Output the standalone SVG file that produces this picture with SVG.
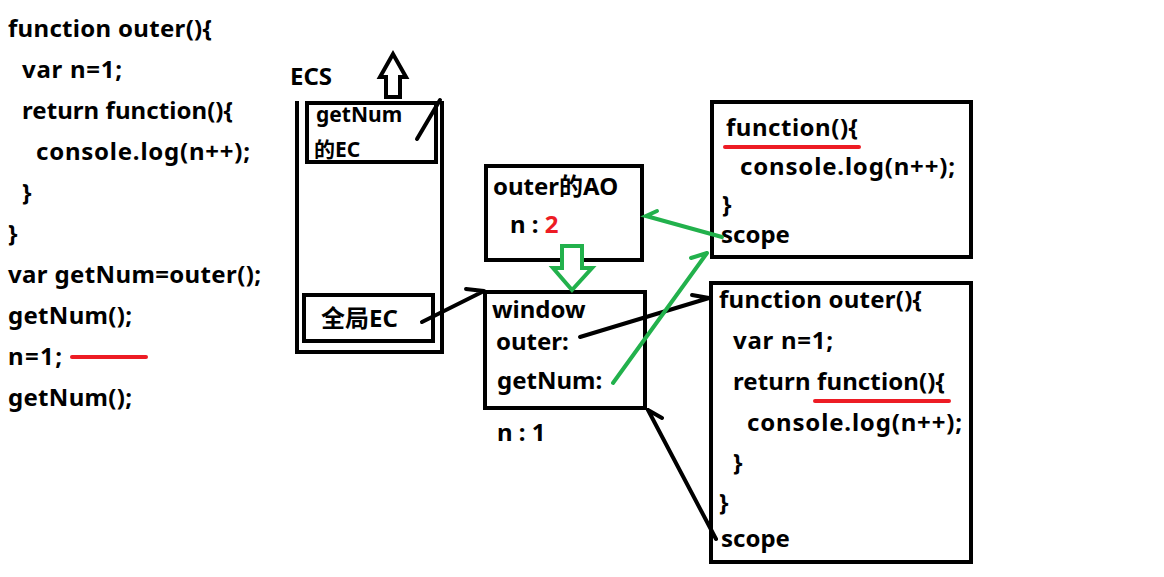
<svg xmlns="http://www.w3.org/2000/svg" width="1164" height="577" viewBox="0 0 1164 577">
<style>
.t{font-family:"Noto Sans","Noto Sans CJK SC",sans-serif;font-weight:bold;font-size:24px;fill:#000}
.s{font-size:21px}
.box{fill:none;stroke:#000;stroke-width:4}
.ln{fill:none;stroke:#000;stroke-width:4;stroke-linecap:round}
.gr{fill:none;stroke:#22b14c;stroke-width:4;stroke-linecap:round}
.red{stroke:#ed1c24;stroke-width:4;stroke-linecap:round}
</style>
<rect width="1164" height="577" fill="#fff"/>
<g id="code">
<text class="t" x="8" y="37" textLength="204" lengthAdjust="spacing">function outer(){</text>
<text class="t" x="22" y="78" textLength="100" lengthAdjust="spacing">var n=1;</text>
<text class="t" x="22" y="119" textLength="211" lengthAdjust="spacing">return function(){</text>
<text class="t" x="36" y="160" textLength="214" lengthAdjust="spacing">console.log(n++);</text>
<text class="t" x="22" y="201">}</text>
<text class="t" x="8" y="242">}</text>
<text class="t" x="8" y="283" textLength="253" lengthAdjust="spacing">var getNum=outer();</text>
<text class="t" x="8" y="324" textLength="124" lengthAdjust="spacing">getNum();</text>
<text class="t" x="8" y="365" textLength="54" lengthAdjust="spacing">n=1;</text>
<line class="red" x1="72" y1="357" x2="146" y2="357"/>
<text class="t" x="8" y="406" textLength="124" lengthAdjust="spacing">getNum();</text>
</g>
<g id="ecs">
<text class="t" x="290" y="85">ECS</text>
<path class="box" d="M297,101 V352 H442 V101"/>
<polygon points="393,54 380,77 386,77 386,97 400,97 400,77 406,77" fill="#fff" stroke="#000" stroke-width="4" stroke-linejoin="miter"/>
</g>
<g id="getnum-ec">
<rect class="box" x="307" y="103" width="129" height="59"/>
<text class="t s" x="316" y="122">getNum</text>
<text class="t s" x="314" y="157">的EC</text>
</g>
<g id="global-ec">
<rect class="box" x="304" y="295" width="129" height="46"/>
<text class="t" x="321" y="327">全局EC</text>
</g>
<g id="outer-ao">
<rect class="box" x="486" y="166" width="156" height="94"/>
<text class="t" x="493" y="195">outer的AO</text>
<text class="t" x="510" y="233">n : <tspan fill="#ed1c24">2</tspan></text>
</g>
<g id="window">
<rect class="box" x="485" y="292" width="160" height="116"/>
<text class="t" x="492" y="318">window</text>
<text class="t" x="496" y="350">outer:</text>
<text class="t" x="497" y="389">getNum:</text>
<text class="t" x="497" y="441">n : 1</text>
</g>
<g id="inner-fn">
<rect class="box" x="712" y="102" width="259" height="155"/>
<text class="t" x="726" y="136" textLength="132" lengthAdjust="spacing">function(){</text>
<line class="red" x1="725" y1="147" x2="859" y2="147"/>
<text class="t" x="740" y="175" textLength="215" lengthAdjust="spacing">console.log(n++);</text>
<text class="t" x="722" y="213">}</text>
<text class="t" x="721" y="243">scope</text>
</g>
<g id="outer-fn">
<rect class="box" x="711" y="283" width="260" height="279"/>
<text class="t" x="719" y="308" textLength="203" lengthAdjust="spacing">function outer(){</text>
<text class="t" x="733" y="349" textLength="100" lengthAdjust="spacing">var n=1;</text>
<text class="t" x="733" y="390" textLength="212" lengthAdjust="spacing">return function(){</text>
<line class="red" x1="815" y1="401" x2="949" y2="401"/>
<text class="t" x="747" y="431" textLength="215" lengthAdjust="spacing">console.log(n++);</text>
<text class="t" x="733" y="471">}</text>
<text class="t" x="719" y="511">}</text>
<text class="t" x="721" y="547">scope</text>
</g>
<g id="connectors">
<path class="ln" d="M417,139 L440,100"/>
<path class="ln" d="M422,322 L484,291 M466,289 L484,291"/>
<path class="ln" d="M580,337 L709,298 M692,295 L709,298"/>
<path class="ln" d="M716,539 L648,410 M662,418 L648,410"/>
<path class="gr" d="M722,237 L646,216 L657,211"/>
<path class="gr" d="M613,383 L707,253 M691,258 L707,253"/>
<polygon points="562,246 582,246 582,268 592,268 572,290 553,268 562,268" fill="#fff" stroke="#22b14c" stroke-width="4"/>
</g>
</svg>
